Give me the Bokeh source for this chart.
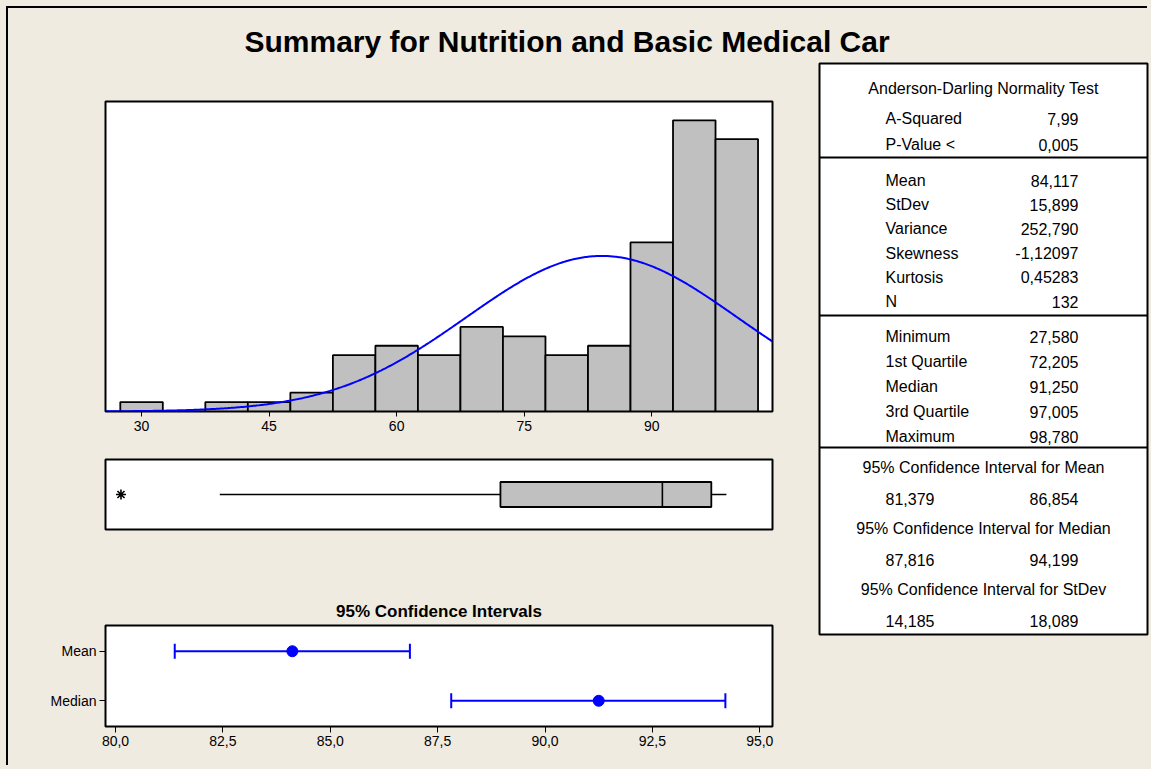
import numpy as np
from bokeh.plotting import figure
from bokeh.layouts import column, row
from bokeh.models import Range1d, FixedTicker, Whisker, TeeHead, ColumnDataSource, Label
from bokeh.core.properties import value
from bokeh.embed import file_html
from bokeh.resources import INLINE

# ---------------- data ----------------
TITLE = "Summary for Nutrition and Basic Medical Car"
CI_PLOT_TITLE = "95% Confidence Intervals"

BIN_CENTERS = [30, 35, 40, 45, 50, 55, 60, 65, 70, 75, 80, 85, 90, 95, 100]
BIN_COUNTS = [1, 0, 1, 1, 2, 6, 7, 6, 9, 8, 6, 7, 18, 31, 29]
BIN_WIDTH = 5
HIST_TICKS = [30, 45, 60, 75, 90]

AD_TITLE = "Anderson-Darling Normality Test"
AD_LABELS = ["A-Squared", "P-Value <"]
AD_VALUES = ["7,99", "0,005"]

DESC_LABELS = ["Mean", "StDev", "Variance", "Skewness", "Kurtosis", "N"]
DESC_VALUES = ["84,117", "15,899", "252,790", "-1,12097", "0,45283", "132"]

QUANT_LABELS = ["Minimum", "1st Quartile", "Median", "3rd Quartile", "Maximum"]
QUANT_VALUES = ["27,580", "72,205", "91,250", "97,005", "98,780"]

CI_TITLES = ["95% Confidence Interval for Mean",
             "95% Confidence Interval for Median",
             "95% Confidence Interval for StDev"]
CI_LOWER = ["81,379", "87,816", "14,185"]
CI_UPPER = ["86,854", "94,199", "18,089"]

WHISKER_LOW = 39.2   # lower whisker end

CI_NAMES = ["Mean", "Median"]
CI_TICKS = [80.0, 82.5, 85.0, 87.5, 90.0, 92.5, 95.0]
CI_TICK_LABELS = ["80,0", "82,5", "85,0", "87,5", "90,0", "92,5", "95,0"]


def num(s):
    return float(s.replace(",", "."))


mean = num(DESC_VALUES[0])
sd = num(DESC_VALUES[1])
n_obs = int(DESC_VALUES[5])
minimum, q1, median, q3, maximum = [num(v) for v in QUANT_VALUES]
ci_lo = [num(v) for v in CI_LOWER[:2]]
ci_hi = [num(v) for v in CI_UPPER[:2]]
ci_centers = [mean, median]

# ---------------- style ----------------
BG = "#EFEBE0"
FONT = "Liberation Sans"
GRAY = "#C0C0C0"
BLUE = "#0000FF"
LEFT_W = 805
TABLE_W = 336


def base_fig(**kw):
    p = figure(toolbar_location=None, output_backend="svg", **kw)
    p.border_fill_color = BG
    p.background_fill_color = "white"
    p.outline_line_color = "black"
    p.outline_line_width = 2
    p.grid.visible = False
    return p


# header with main title
header = base_fig(width=LEFT_W + TABLE_W, height=53, x_range=Range1d(0, 1), y_range=Range1d(0, 1),
                  min_border=0, x_axis_location=None, y_axis_location=None)
header.background_fill_color = BG
header.outline_line_color = None
header.add_layout(Label(x=0.4895, y=0.38, text=TITLE, text_align="center", text_baseline="middle",
                        text_font=FONT, text_font_size="30px", text_font_style="bold",
                        text_color="black"))

# histogram
hx_lo, hx_hi = 25.76, 104.2
hist = base_fig(width=LEFT_W, height=379, x_range=Range1d(hx_lo, hx_hi), y_range=Range1d(0, 33),
                min_border_left=97, min_border_right=41, min_border_top=40, min_border_bottom=29,
                y_axis_location=None)
hist.vbar(x=BIN_CENTERS, top=BIN_COUNTS, bottom=0, width=BIN_WIDTH, fill_color=GRAY,
          line_color="black", line_width=1.8)
xs = np.linspace(hx_lo, hx_hi, 500)
ys = n_obs * BIN_WIDTH * np.exp(-0.5 * ((xs - mean) / sd) ** 2) / (sd * np.sqrt(2 * np.pi))
hist.line(xs, ys, line_color=BLUE, line_width=2)
ax = hist.xaxis[0]
ax.ticker = FixedTicker(ticks=HIST_TICKS)
ax.minor_tick_line_color = None
ax.major_tick_in = 0
ax.major_tick_out = 5
ax.major_tick_line_width = 1
ax.axis_line_color = "black"
ax.major_label_text_font = FONT
ax.major_label_text_font_size = "14px"
ax.major_label_text_color = "black"
ax.major_label_standoff = 4

# boxplot
box = base_fig(width=LEFT_W, height=105, x_range=hist.x_range, y_range=Range1d(-1.4, 1.4),
               min_border_left=97, min_border_right=41, min_border_top=19, min_border_bottom=16,
               x_axis_location=None, y_axis_location=None)
box.segment(x0=[WHISKER_LOW, q3], x1=[q1, maximum], y0=[0, 0], y1=[0, 0],
            line_color="black", line_width=1.6)
box.quad(left=[q1], right=[q3], bottom=[-0.5], top=[0.5], fill_color=GRAY,
         line_color="black", line_width=1.8)
box.segment(x0=[median], x1=[median], y0=[-0.5], y1=[0.5], line_color="black", line_width=1.6)
box.scatter(x=[minimum], y=[0], marker="asterisk", size=10, line_color="black", line_width=1.6)

# confidence interval plot
ci_y = [len(CI_NAMES) - i for i in range(len(CI_NAMES))]
ci = base_fig(width=LEFT_W, height=222, x_range=Range1d(79.767, 95.296), y_range=Range1d(0.48, 2.52),
              min_border_left=97, min_border_right=41, min_border_top=80, min_border_bottom=41,
              title=CI_PLOT_TITLE)
ci.title.align = "center"
ci.title.text_font = FONT
ci.title.text_font_size = "17px"
ci.title.text_font_style = "bold"
ci.title.text_color = "black"
ci.title.standoff = 10
src = ColumnDataSource(dict(base=ci_y, lower=ci_lo, upper=ci_hi, center=ci_centers))
ci.add_layout(Whisker(base="base", lower="lower", upper="upper", source=src, dimension="width",
                      line_color=BLUE, line_width=2,
                      upper_head=TeeHead(size=15, line_color=BLUE, line_width=2),
                      lower_head=TeeHead(size=15, line_color=BLUE, line_width=2)))
ci.scatter(x="center", y="base", source=src, size=11, color=BLUE)
for a in (ci.xaxis[0], ci.yaxis[0]):
    a.minor_tick_line_color = None
    a.major_tick_in = 0
    a.major_tick_out = 6
    a.axis_line_color = "black"
    a.major_label_text_font = FONT
    a.major_label_text_font_size = "14px"
    a.major_label_text_color = "black"
    a.major_label_standoff = 3
ci.xaxis[0].ticker = FixedTicker(ticks=CI_TICKS)
ci.xaxis[0].major_label_overrides = dict(zip(CI_TICKS, CI_TICK_LABELS))
ci.yaxis[0].ticker = FixedTicker(ticks=ci_y)
ci.yaxis[0].major_label_overrides = dict(zip(ci_y, CI_NAMES))

# statistics table
TW, TH = 328, 571
tbl = base_fig(width=TABLE_W, height=706, x_range=Range1d(0, TW), y_range=Range1d(TH, 0),
               min_border_left=6, min_border_right=2, min_border_top=2, min_border_bottom=133,
               x_axis_location=None, y_axis_location=None)
LX, VX, CX = 66, 259, TW / 2
ad_y = [55 + 26 * i for i in range(len(AD_LABELS))]
desc_y = [117 + 24.2 * i for i in range(len(DESC_LABELS))]
quant_y = [273 + 25 * i for i in range(len(QUANT_LABELS))]
ci_title_y = [404 + 61 * i for i in range(len(CI_TITLES))]
ci_val_y = [y + 31 for y in ci_title_y]
SEPS = [94, 252, 384]

tkw = dict(text_font=value(FONT), text_font_size="16px", text_baseline="middle", text_color="black")
tbl.text(x=[CX], y=[25], text=[AD_TITLE], text_align="center", **tkw)
left_labels = AD_LABELS + DESC_LABELS + QUANT_LABELS
left_vals = AD_VALUES + DESC_VALUES + QUANT_VALUES
left_y = ad_y + desc_y + quant_y
tbl.text(x=[LX] * len(left_labels), y=left_y, text=left_labels, text_align="left", **tkw)
tbl.text(x=[VX] * len(left_vals), y=left_y, text=left_vals, text_align="right", **tkw)
tbl.text(x=[CX] * len(CI_TITLES), y=ci_title_y, text=CI_TITLES, text_align="center", **tkw)
tbl.text(x=[LX] * len(CI_LOWER), y=ci_val_y, text=CI_LOWER, text_align="left", **tkw)
tbl.text(x=[VX] * len(CI_UPPER), y=ci_val_y, text=CI_UPPER, text_align="right", **tkw)
tbl.segment(x0=[0] * len(SEPS), x1=[TW] * len(SEPS), y0=SEPS, y1=SEPS, line_color="black", line_width=2)

root = column(header, row(column(hist, box, ci), tbl),
              styles={"background-color": BG,
                      "margin-left": "8px", "margin-top": "8px",
                      "box-shadow": "-2px -2px 0 0 #000000, 0 0 0 40px " + BG})

open("out.html", "w").write(file_html(root, INLINE))
